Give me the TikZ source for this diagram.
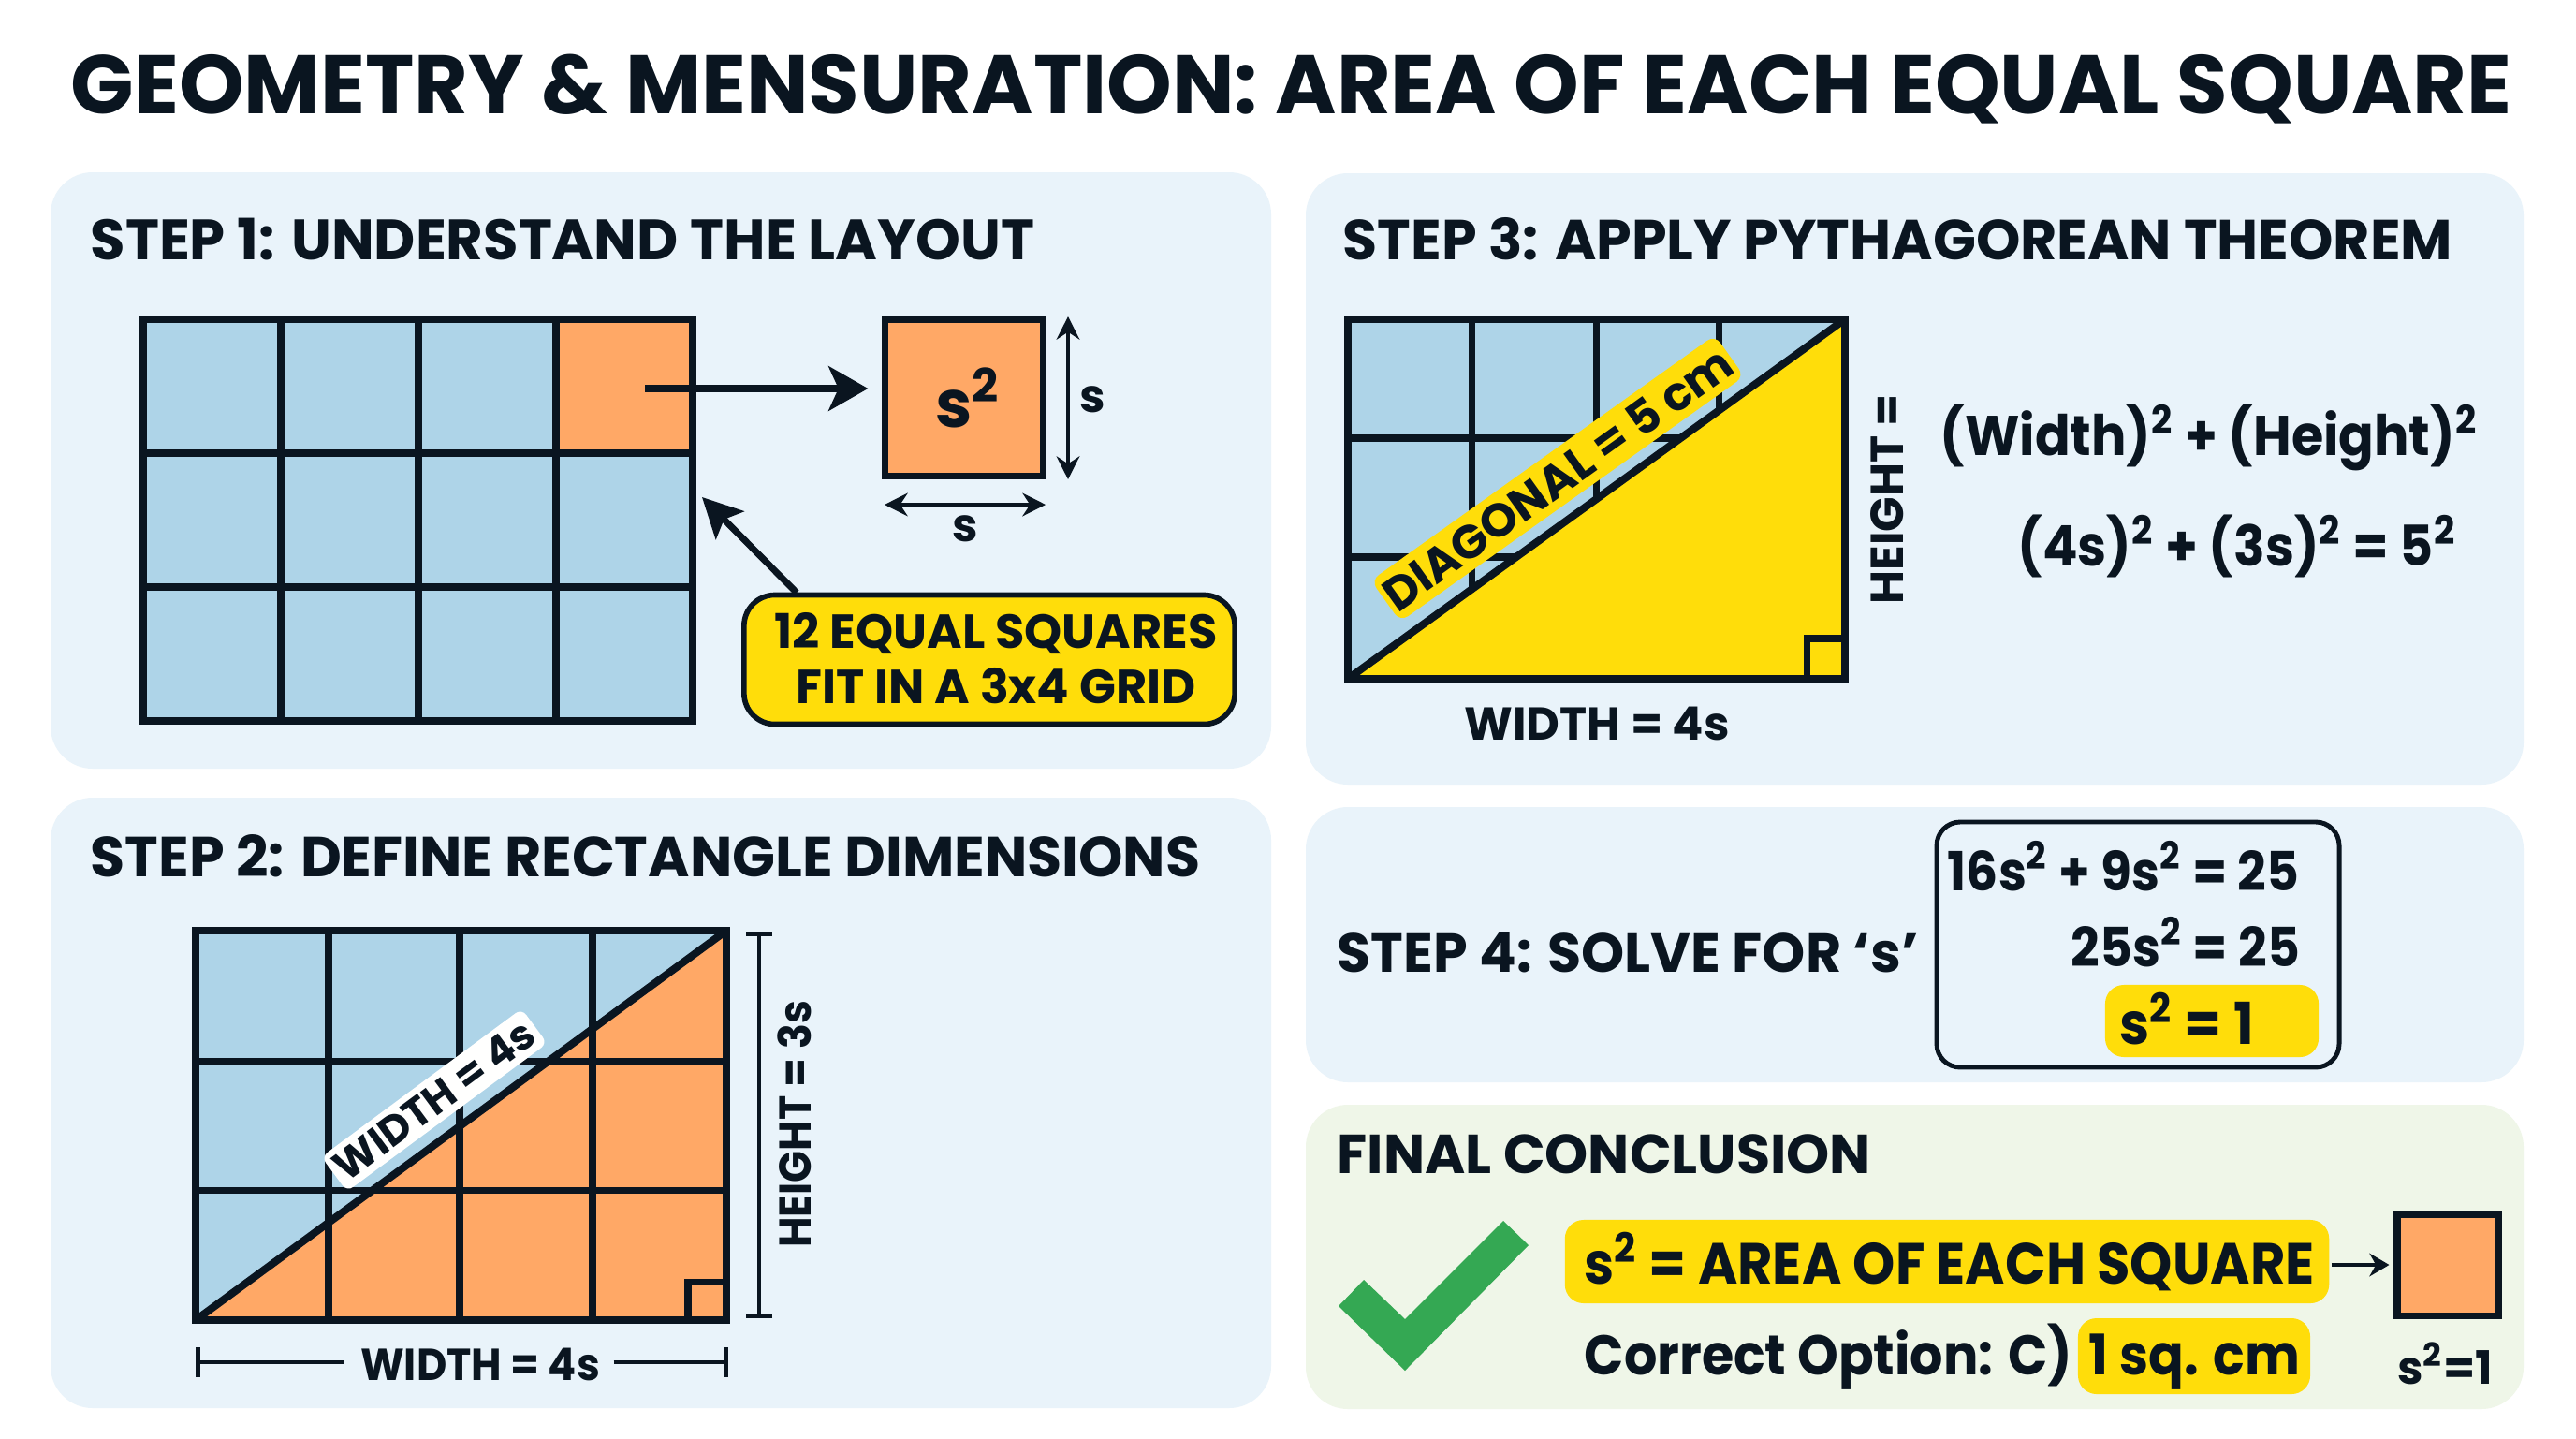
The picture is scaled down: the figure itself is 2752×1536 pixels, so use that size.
\documentclass[tikz,border=0pt]{standalone}
\usepackage{fontspec}
\usepackage{tikz}
\usetikzlibrary{arrows.meta}
\setmainfont{Poppins}
\newfontfamily\condensed{Poppins}[FakeStretch=0.93]
\definecolor{ink}{HTML}{0A1520}
\definecolor{panelblue}{HTML}{E9F3FA}
\definecolor{panelgreen}{HTML}{EFF6E8}
\definecolor{cellblue}{HTML}{AED4E8}
\definecolor{cellorange}{HTML}{FFA866}
\definecolor{marker}{HTML}{FFDD0A}
\definecolor{tick}{HTML}{34A853}
\newcommand{\sqd}{\textsuperscript{2}}
\begin{document}
\begin{tikzpicture}[x=0.01cm,y=-0.01cm,
% common options for the cards:
card/.style = {fill=panelblue, rounded corners=0.45cm},
greencard/.style = {fill=panelgreen, rounded corners=0.45cm},
% common options for the texts:
maintitle/.style = {inner sep=0, anchor=base west, text=ink, font=\fontsize{25.2}{28}\selectfont\bfseries},
heading/.style = {inner sep=0, anchor=base west, text=ink, font=\fontsize{17.15}{20}\selectfont\bfseries},
label/.style = {inner sep=0, text=ink, font=\fontsize{14}{17}\selectfont\bfseries},
narrowlabel/.style = {inner sep=0, text=ink, font=\condensed\fontsize{13.6}{17}\selectfont\bfseries},
formula/.style = {inner sep=0, anchor=base west, text=ink, font=\condensed\fontsize{17}{20}\selectfont\bfseries},
% common options for the drawings:
gridline/.style = {draw=ink, line width=2pt},
frame/.style = {draw=ink, line width=2.3pt},
hilite/.style = {fill=marker, rounded corners=0.2cm, inner sep=0},
tile/.style = {draw=ink, fill=cellorange, line width=2pt, inner sep=0, minimum width=1.08cm, minimum height=1.08cm},
dim/.style = {draw=ink, line width=1.3pt}]
\useasboundingbox (0,0) rectangle (2752,1536);
\fill[white] (0,0) rectangle (2752,1536);
\node[maintitle] (title) at (75,121) {GEOMETRY \& MENSURATION: AREA OF EACH EQUAL SQUARE};
% step 1
\fill[card] (54,184) rectangle (1358,821);
\node[heading, font=\fontsize{17.3}{20}\selectfont\bfseries] (head1) at (96,277) {STEP 1: UNDERSTAND THE LAYOUT};
\fill[cellblue] (153,341) rectangle (740,770);
\fill[cellorange] (594,341) rectangle (740,484);
\draw[gridline] (300,341) -- (300,770);
\draw[gridline] (447,341) -- (447,770);
\draw[gridline] (594,341) -- (594,770);
\draw[gridline] (153,484) -- (740,484);
\draw[gridline] (153,627) -- (740,627);
\draw[frame] (153,341) rectangle (740,770);
\coordinate (cellmid) at (689,415);
\coordinate (gridedge) at (750,531);
\node[tile, minimum width=1.68cm, minimum height=1.67cm] (unit) at (1030,425) {};
\node[inner sep=0, text=ink, font=\fontsize{20}{24}\selectfont\bfseries] (unittext) at (1034,425) {s\sqd};
\draw[ink, line width=2.2pt, -{Stealth[length=12pt,width=13.5pt,inset=3pt]}, shorten >=0.15cm] (cellmid) -- (cellmid -| unit.west);
\coordinate (vtop) at (1141,338);
\coordinate (vbot) at (1141,512);
\coordinate (hleft) at (945,539);
\coordinate (hright) at (1117,539);
\draw[dim, {Stealth[length=7pt,width=7pt]}-{Stealth[length=7pt,width=7pt]}] (vtop) -- (vbot);
\draw[dim, {Stealth[length=7pt,width=7pt]}-{Stealth[length=7pt,width=7pt]}] (hleft) -- (hright);
\node[label] (sv) at (1167,427) {s};
\node[label] (sh) at (1031,565) {s};
\node[draw=ink, fill=marker, line width=1.6pt, rounded corners=0.33cm, minimum width=5.24cm, minimum height=1.38cm, inner sep=0] (note) at (1057,704.5) {};
\node[inner sep=0, align=center, text=ink, font=\fontsize{14.5}{16.7}\selectfont\bfseries] (notetext) at (1064,703) {12 EQUAL SQUARES\\FIT IN A 3x4 GRID};
\draw[ink, line width=2pt, -{Stealth[length=12pt,width=12pt,inset=2.5pt]}] (851,633) -- (gridedge);
% step 2
\fill[card] (54,852) rectangle (1358,1504);
\node[heading] (head2) at (96,936) {STEP 2: DEFINE RECTANGLE DIMENSIONS};
\fill[cellblue] (209,994) rectangle (776,1410);
\fill[cellorange] (209,1410) -- (776,994) -- (776,1410) -- cycle;
\draw[gridline] (351,994) -- (351,1410);
\draw[gridline] (491,994) -- (491,1410);
\draw[gridline] (633,994) -- (633,1410);
\draw[gridline] (209,1133) -- (776,1133);
\draw[gridline] (209,1271) -- (776,1271);
\draw[gridline] (735,1410) |- (776,1369);
\draw[frame] (209,1410) -- (776,994);
\draw[frame] (209,994) rectangle (776,1410);
\node[fill=white!97!panelgreen, rounded corners=0.08cm, rotate=36.5, inner sep=0, minimum width=2.66cm, minimum height=0.46cm, text=ink, font=\fontsize{12.6}{14}\selectfont\bfseries] (wlabel) at (464,1175) {WIDTH = 4s};
\coordinate (hdimtop) at (811,995);
\coordinate (hdimbot) at (811,1408);
\draw[dim, {Bar[width=8pt]}-{Bar[width=8pt]}] (hdimtop) -- (hdimbot);
\node[narrowlabel, rotate=90] (hlabel) at (849,1201) {HEIGHT = 3s};
\node[narrowlabel, anchor=base] (wdim) at (513,1474) {WIDTH = 4s};
\coordinate (wleft) at (209,1455);
\coordinate (wright) at (778,1455);
\draw[dim, {Bar[width=9pt]}-, shorten >=0.16cm] (wleft) -- (wleft -| wdim.west);
\draw[dim, -{Bar[width=9pt]}, shorten <=0.14cm] (wright -| wdim.east) -- (wright);
% step 3
\fill[card] (1395,185) rectangle (2696,838);
\node[heading] (head3) at (1434,277) {STEP 3: APPLY PYTHAGOREAN THEOREM};
\fill[cellblue] (1440,341) rectangle (1971,725);
\draw[gridline] (1572,341) -- (1572,725);
\draw[gridline] (1705,341) -- (1705,725);
\draw[gridline] (1836,341) -- (1836,725);
\draw[gridline] (1440,468) -- (1971,468);
\draw[gridline] (1440,595) -- (1971,595);
\fill[marker] (1440,725) -- (1971,341) -- (1971,725) -- cycle;
\draw[gridline] (1930,725) |- (1971,682);
\draw[frame] (1440,725) -- (1971,341);
\draw[frame] (1440,341) rectangle (1971,725);
\node[hilite, rounded corners=0.1cm, rotate=35.5, minimum width=4.51cm, minimum height=0.54cm, text=ink, font=\fontsize{14.2}{16}\selectfont\bfseries] (dlabel) at (1664,511) {DIAGONAL = 5 cm};
\node[label, rotate=90] (hgt) at (2016,533) {HEIGHT =};
\node[label, anchor=base] (wid) at (1706,790) {WIDTH = 4s};
\node[formula] (eq1) at (2072,486) {(Width)\sqd{} + (Height)\sqd};
\node[formula] (eq2) at (2155,604) {(4s)\sqd{} + (3s)\sqd{} = 5\sqd};
% step 4
\fill[card] (1395,862) rectangle (2696,1156);
\node[heading, font=\fontsize{16.7}{20}\selectfont\bfseries] (head4) at (1428,1038) {STEP 4: SOLVE FOR ‘s’};
\draw[ink, line width=1.4pt, rounded corners=0.25cm] (2069,878) rectangle (2499,1140);
\node[hilite, minimum width=2.28cm, minimum height=0.77cm] (bar3) at (2363,1090.5) {};
\node[formula, font=\condensed\fontsize{16.4}{20}\selectfont\bfseries] (solve1) at (2080,951) {16s\sqd{} + 9s\sqd{} = 25};
\node[formula, font=\condensed\fontsize{16.4}{20}\selectfont\bfseries] (solve2) at (2212,1032) {25s\sqd{} = 25};
\node[formula, font=\condensed\fontsize{17.6}{20}\selectfont\bfseries] (solve3) at (2264,1115) {s\sqd{} = 1};
% final conclusion
\fill[greencard] (1395,1180) rectangle (2696,1505);
\node[heading, font=\fontsize{16.7}{20}\selectfont\bfseries] (head5) at (1428,1253) {FINAL CONCLUSION};
\fill[tick] (1430,1395) -- (1457,1367) -- (1501,1409) -- (1606,1304) -- (1633,1330) -- (1501,1464) -- cycle;
\node[hilite, minimum width=8.16cm, minimum height=0.89cm] (bar1) at (2080,1347.5) {};
\node[formula, font=\condensed\fontsize{17.6}{20}\selectfont\bfseries] (area) at (1692,1371) {s\sqd{} = AREA OF EACH SQUARE};
\node[tile] (final) at (2615,1351) {};
\draw[ink, line width=1.3pt, -{Stealth[length=6pt,width=7pt]}, shorten >=0.05cm] (bar1.east |- final) ++(0.02cm,0) -- (final.west);
\node[hilite, minimum width=2.48cm, minimum height=0.81cm] (bar2) at (2344,1448.5) {};
\node[formula] (option) at (1692,1468) {Correct Option: C)};
\node[formula] (answer) at (2231,1468) {1 sq. cm};
\node[label, anchor=base] (one) at (2612,1478) {s\sqd=1};
\end{tikzpicture}
\end{document}
